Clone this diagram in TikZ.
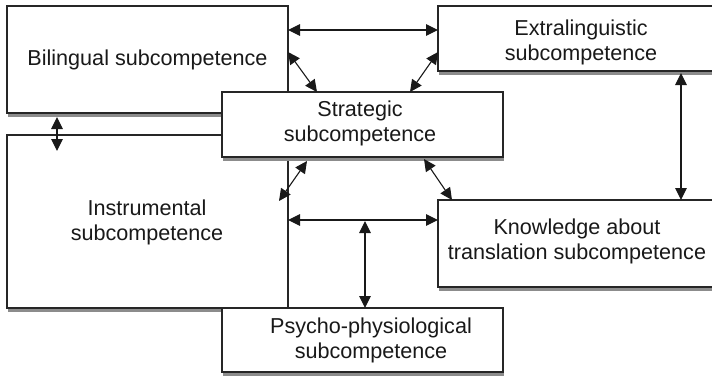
\documentclass[tikz,border=0pt]{standalone}
\usepackage{fontspec}
\setmainfont{Liberation Sans}
\usetikzlibrary{arrows.meta,calc,shadows}
\begin{document}
\begin{tikzpicture}[x=1pt,y=-1pt,
  compbox/.style={draw=black!85, line width=1.3pt, fill=white, anchor=north west,
    inner sep=0pt, outer sep=0pt,
    drop shadow={shadow xshift=1.2pt, shadow yshift=-4pt, fill=black!45, opacity=1}},
  boxtext/.style={align=center, font=\fontsize{21.6}{25}\selectfont, text=black!90, inner sep=0pt},
  biarrow/.style={draw=black!90, line width=1.1pt,
    {Triangle[length=12pt,width=11.5pt]}-{Triangle[length=12pt,width=11.5pt]}}]
\useasboundingbox (0,0) rectangle (712,376);

% boxes that sit underneath the strategic and psycho-physiological boxes
\node[compbox, minimum width=281pt, minimum height=107pt] (bil) at (7,6) {};
\node[compbox, minimum width=281pt, minimum height=173pt] (ins) at (7,135) {};
\node[compbox, minimum width=290pt, minimum height=65pt] (ext) at (438,6) {};
\node[compbox, minimum width=290pt, minimum height=87pt] (kno) at (438,200) {};
% boxes drawn on top
\node[compbox, minimum width=281pt, minimum height=65pt] (str) at (222,92) {};
\node[compbox, minimum width=281pt, minimum height=64pt] (psy) at (222,308) {};

% labels
\node[boxtext] (bilt) at (147.5,60) {Bilingual subcompetence};
\node[boxtext] (extt) at (581,42) {Extralinguistic\\subcompetence};
\node[boxtext] (strt) at (360,123) {Strategic\\subcompetence};
\node[boxtext] (inst) at (147,222) {Instrumental\\subcompetence};
\node[boxtext] (knot) at (577,241) {Knowledge about\\translation subcompetence};
\node[boxtext] (psyt) at (371,340) {Psycho-physiological\\subcompetence};

% connectors
\draw[biarrow] ($(bil.north east)+(0,24)$) -- ($(ext.north west)+(0,24)$);
\draw[biarrow] ($(bil.north east)+(0,46)$) -- ($(str.north west)+(95,0)$);
\draw[biarrow] ($(ext.north west)+(0,46)$) -- ($(str.north west)+(188,0)$);
\draw[biarrow] ($(bil.south west)+(50,4)$) -- ($(ins.north west)+(50,16)$);
\draw[biarrow] ($(str.south west)+(85,4)$) -- ($(ins.north east)+(-9,66)$);
\draw[biarrow] ($(str.south west)+(202,2)$) -- ($(kno.north west)+(14,0)$);
\draw[biarrow] ($(ins.north east)+(0,85)$) -- ($(kno.north west)+(0,20)$);
\draw[biarrow] ($(ext.south west)+(243,2)$) -- ($(kno.north west)+(243,0)$);
\coordinate (tap) at ($(ins.north east)+(77,86)$);
\draw[biarrow] (tap) -- (tap |- psy.north);
\end{tikzpicture}
\end{document}
